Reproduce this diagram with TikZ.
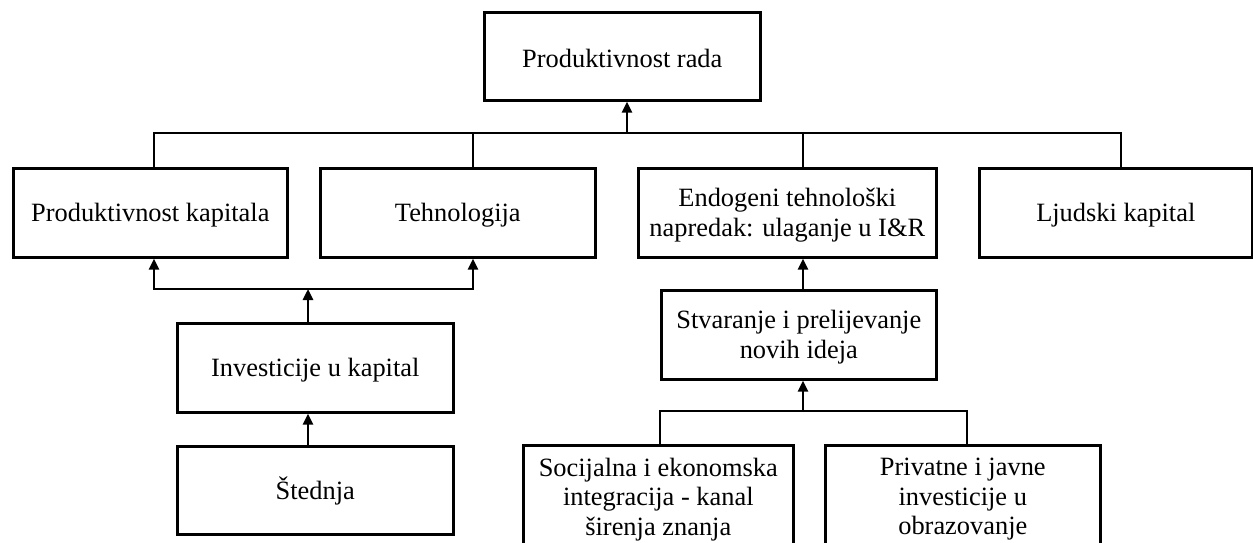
\documentclass[tikz,border=0pt]{standalone}
\usepackage{fontspec}
\setmainfont{Liberation Serif}
\usetikzlibrary{arrows.meta}
\newcommand{\tpad}{\rule{0pt}{23.5pt}}
\tikzset{
  box/.style={draw, line width=2.6pt, rectangle, inner sep=0pt, align=center, anchor=north west,
    font=\fontsize{26.4}{29.5}\selectfont},
  conn/.style={draw, line width=2.6pt, line join=miter},
  tip/.tip={Triangle[length=11pt,width=10pt]},
  arr/.style={conn, -tip},
  arrboth/.style={conn, tip-tip}
}
\begin{document}
\begin{tikzpicture}[x=1pt,y=-1pt]
\useasboundingbox (0,0) rectangle (1253,542);
\clip (0,0) rectangle (1253,542);
% boxes
\node[box, minimum width=276pt, minimum height=88pt] (rada) at (483,11) {\tpad Produktivnost rada};
\node[box, minimum width=274pt, minimum height=89pt] (kap) at (12,167) {\tpad Produktivnost kapitala};
\node[box, minimum width=275pt, minimum height=89pt] (teh) at (319,167) {\tpad Tehnologija};
\node[box, minimum width=298pt, minimum height=89pt] (endo) at (637,167) {\tpad Endogeni tehnološki\\napredak: ulaganje u I\&R};
\node[box, minimum width=273pt, minimum height=89pt] (ljud) at (978,167) {\tpad Ljudski kapital};
\node[box, minimum width=276pt, minimum height=89pt] (inv) at (176,322) {\tpad Investicije u kapital};
\node[box, minimum width=276pt, minimum height=88pt] (sted) at (176,445) {\tpad Štednja};
\node[box, minimum width=275pt, minimum height=89pt] (stv) at (660,289) {\tpad Stvaranje i prelijevanje\\novih ideja};
\node[box, minimum width=270pt, minimum height=108pt] (soc) at (522,444) {Socijalna i ekonomska\\integracija - kanal\\širenja znanja};
\node[box, minimum width=275pt, minimum height=108pt] (priv) at (824,444) {Privatne i javne\\investicije u\\obrazovanje};
% junction coordinates
\coordinate (t1) at (154,133);
\coordinate (t2) at (473,133);
\coordinate (t3) at (803,133);
\coordinate (t4) at (1121,133);
\coordinate (tA) at (627,133);
\coordinate (b1) at (154,289);
\coordinate (b2) at (473,289);
\coordinate (bA) at (308,289);
\coordinate (s1) at (660,411);
\coordinate (s2) at (967,411);
\coordinate (sA) at (803,411);
% top bus
\draw[conn] (kap.north -| t1) -- (t1) -- (t4) -- (ljud.north -| t4);
\draw[conn] (teh.north -| t2) -- (t2);
\draw[conn] (endo.north -| t3) -- (t3);
\draw[arr] (tA) -- (rada.south -| tA);
% lower left
\draw[arrboth] (kap.south -| b1) -- (b1) -- (b2) -- (teh.south -| b2);
\draw[arr] (inv.north -| bA) -- (bA);
\draw[arr] (sted.north -| bA) -- (inv.south -| bA);
% right side
\draw[arr] (stv.north -| sA) -- (endo.south -| sA);
\draw[conn] (soc.north -| s1) -- (s1) -- (s2) -- (priv.north -| s2);
\draw[arr] (sA) -- (stv.south -| sA);
\end{tikzpicture}
\end{document}
